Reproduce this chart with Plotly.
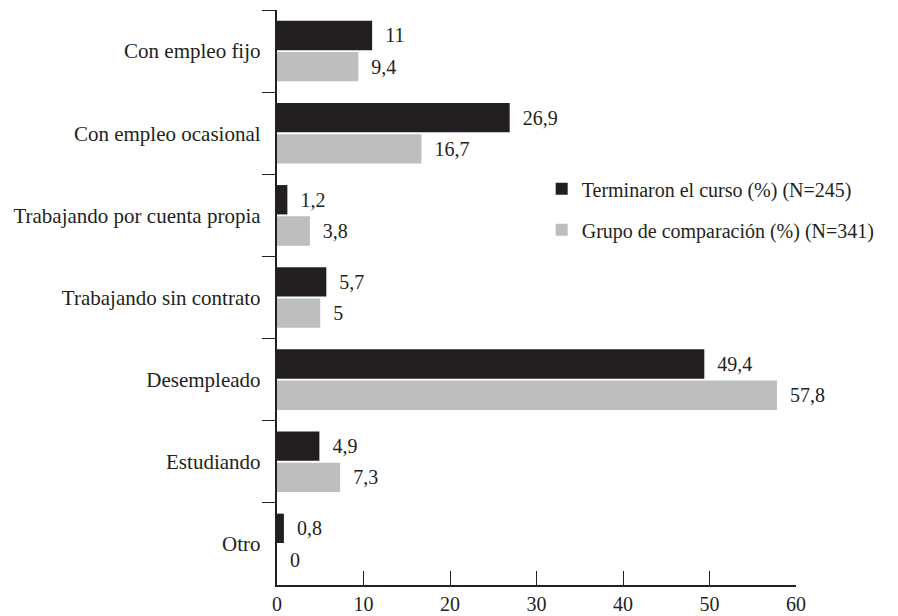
import plotly.graph_objects as go

categorias = [
    "Con empleo fijo",
    "Con empleo ocasional",
    "Trabajando por cuenta propia",
    "Trabajando sin contrato",
    "Desempleado",
    "Estudiando",
    "Otro",
]
terminaron = [11, 26.9, 1.2, 5.7, 49.4, 4.9, 0.8]
comparacion = [9.4, 16.7, 3.8, 5, 57.8, 7.3, 0]
serie_nombres = [
    "Terminaron el curso (%) (N=245)",
    "Grupo de comparación (%) (N=341)",
]
x_ticks = [0, 10, 20, 30, 40, 50, 60]

NEGRO = "#231f20"
GRIS = "#bcbec0"
FUENTE = "Liberation Serif"
NBSP = "\u00a0"


def fmt(v):
    # decimal comma, with a little leading space before the bar end
    return NBSP * 2 + f"{v:g}".replace(".", ",")


fig = go.Figure()
for nombre, valores, color, grupo in [
    (serie_nombres[0], terminaron, NEGRO, "a"),
    (serie_nombres[1], comparacion, GRIS, "b"),
]:
    fig.add_trace(go.Bar(
        y=categorias,
        x=valores,
        orientation="h",
        name=nombre,
        legendgroup=grupo,
        marker=dict(color=color, line=dict(width=0)),
        text=[fmt(v) for v in valores],
        textposition="outside",
        textfont=dict(family=FUENTE, size=20, color=NEGRO),
        cliponaxis=False,
    ))

fig.update_layout(
    width=898,
    height=616,
    margin=dict(l=277, r=102, t=10, b=31),
    paper_bgcolor="white",
    plot_bgcolor="white",
    barmode="group",
    bargap=0.24,
    bargroupgap=0.06,
    font=dict(family=FUENTE, size=20, color=NEGRO),
    uniformtext=dict(minsize=20, mode="show"),
    legend=dict(
        x=0.51, y=0.723, xanchor="left", yanchor="top",
        font=dict(family=FUENTE, size=20, color=NEGRO),
        tracegroupgap=12,
        itemwidth=30,
        bgcolor="rgba(0,0,0,0)",
    ),
    showlegend=True,
)

fig.update_xaxes(
    automargin=False,
    range=[0, 60],
    tickvals=x_ticks,
    ticktext=[str(t) for t in x_ticks],
    ticks="inside",
    ticklen=14,
    tickcolor=NEGRO,
    tickwidth=1.3,
    showline=True,
    linecolor=NEGRO,
    linewidth=1.5,
    showgrid=False,
    zeroline=False,
    tickfont=dict(family=FUENTE, size=20, color=NEGRO),
)
fig.update_yaxes(
    automargin=False,
    autorange="reversed",
    tickson="boundaries",
    ticks="outside",
    ticklen=13,
    tickcolor=NEGRO,
    tickwidth=1.3,
    showline=True,
    linecolor=NEGRO,
    linewidth=1.5,
    showgrid=False,
    zeroline=False,
    ticksuffix=NBSP * 2,
    tickfont=dict(family=FUENTE, size=21, color=NEGRO),
)

fig.write_html("out.html")
